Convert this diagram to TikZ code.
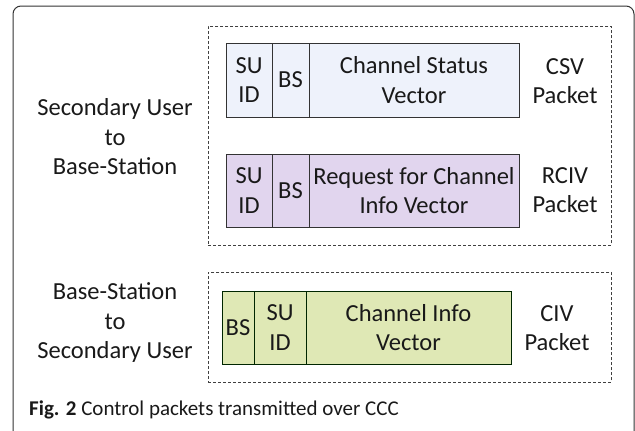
\documentclass[tikz,border=0pt]{standalone}
\usepackage{fontspec}
\setmainfont{Carlito}
\begin{document}
\begin{tikzpicture}[x=1pt,y=-1pt,
  lbl/.style={align=center,font=\fontsize{24.5}{29.5}\selectfont,text=black!90,inner sep=0pt},
  cell/.style={draw=black!80,line width=0.9pt,anchor=north west,outer sep=0pt,inner sep=0pt,align=center,font=\fontsize{24.5}{29.5}\selectfont,text=black!90},
  group/.style={draw=black!75,line width=0.8pt,dash pattern=on 3pt off 2pt},
  frame/.style={draw=black!80,line width=1pt,rounded corners=8pt}]
\definecolor{csvfill}{HTML}{EEF2FB}
\definecolor{rcivfill}{HTML}{E1D5EE}
\definecolor{civfill}{HTML}{DFE8B5}
\useasboundingbox (0,0) rectangle (635,431);
\draw[frame] (13,431) -- (13,6) -- (634,6) -- (634,431);
% groups
\node[group,minimum width=403pt,minimum height=219pt,anchor=north west,inner sep=0pt] (g1) at (208,26) {};
\node[group,minimum width=403pt,minimum height=110pt,anchor=north west,inner sep=0pt] (g2) at (208,272) {};
% side labels
\node[lbl] (l1) at (115,137) {Secondary User\\to\\Base-Station};
\node[lbl] (l2) at (115,323) {Base-Station\\to\\Secondary User};
% CSV
\node[cell,fill=csvfill,minimum width=46pt,minimum height=74pt] (c1) at (226,43) {SU\\ID};
\node[cell,fill=csvfill,minimum width=37pt,minimum height=74pt] (c2) at (c1.north east) {BS};
\node[cell,fill=csvfill,minimum width=210pt,minimum height=74pt] (c3) at (c2.north east) {Channel Status\\Vector};
\node[lbl] (c4) at (565,81) {CSV\\Packet};
% RCIV
\node[cell,fill=rcivfill,minimum width=46pt,minimum height=73pt] (r1) at (226,154) {SU\\ID};
\node[cell,fill=rcivfill,minimum width=37pt,minimum height=73pt] (r2) at (r1.north east) {BS};
\node[cell,fill=rcivfill,minimum width=210pt,minimum height=73pt] (r3) at (r2.north east) {Request for Channel\\Info Vector};
\node[lbl] (r4) at (565,190) {RCIV\\Packet};
% CIV
\node[cell,fill=civfill,draw=black!75!green!60!black,minimum width=32pt,minimum height=73pt] (v1) at (222,291) {BS};
\node[cell,fill=civfill,draw=black!75!green!60!black,minimum width=52pt,minimum height=73pt] (v2) at (v1.north east) {SU\\ID};
\node[cell,fill=civfill,draw=black!75!green!60!black,minimum width=205pt,minimum height=73pt] (v3) at (v2.north east) {Channel Info\\Vector};
\node[lbl] (v4) at (557,328) {CIV\\Packet};
% caption
\node[anchor=base west,inner sep=0pt,font=\fontsize{21}{24}\selectfont,text=black!90] (cap) at (29,415) {\textbf{Fig. 2} Control packets transmitted over CCC};
\end{tikzpicture}
\end{document}
